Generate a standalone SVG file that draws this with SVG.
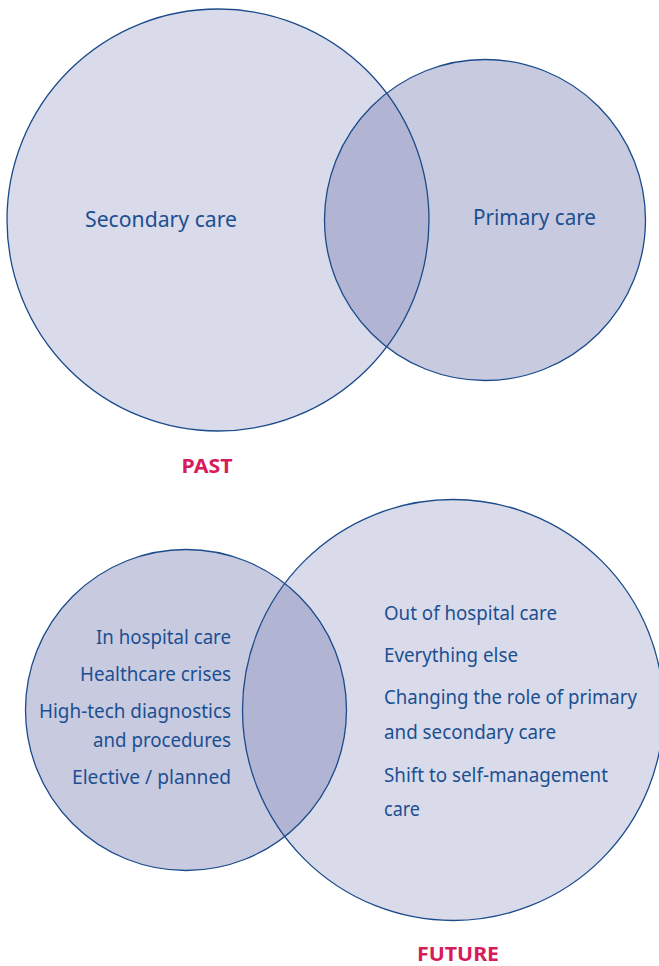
<svg xmlns="http://www.w3.org/2000/svg" width="659" height="966" viewBox="0 0 659 966">
<style>
.light{fill:#d9dbea}
.mid{fill:#c8cbe0}
.lens{fill:#b1b5d3}
.ring{fill:none;stroke:#1b4b8b;stroke-width:1.3}
.lbl{font-family:"Noto Sans","Open Sans","DejaVu Sans",sans-serif;fill:#1c4f91}
.big{font-size:22.5px}
.item{font-size:20px}
.head{font-family:"Noto Sans","DejaVu Sans",sans-serif;font-weight:bold;font-size:19.5px;fill:#d81b5b}
</style>
<defs>
<clipPath id="clipTopSmall"><circle cx="485" cy="220" r="160.5"/></clipPath>
<clipPath id="clipBotLeft"><circle cx="186" cy="710" r="160.5"/></clipPath>
</defs>
<rect width="659" height="966" fill="#ffffff"/>

<g id="past-secondary">
<circle class="light" cx="218" cy="220" r="211"/>
</g>
<g id="past-primary">
<circle class="mid" cx="485" cy="220" r="160.5"/>
</g>
<g id="past-overlap">
<circle class="lens" cx="218" cy="220" r="211" clip-path="url(#clipTopSmall)"/>
</g>
<g id="past-rings">
<circle class="ring" cx="218" cy="220" r="211"/>
<circle class="ring" cx="485" cy="220" r="160.5"/>
</g>
<g id="past-labels">
<text class="lbl big" x="85" y="227" textLength="152" lengthAdjust="spacingAndGlyphs">Secondary care</text>
<text class="lbl big" x="473" y="225" textLength="123" lengthAdjust="spacingAndGlyphs">Primary care</text>
<text class="head" x="181.5" y="472.5" textLength="51" lengthAdjust="spacingAndGlyphs">PAST</text>
</g>

<g id="future-outofhospital">
<circle class="light" cx="453" cy="710" r="210.5"/>
</g>
<g id="future-inhospital">
<circle class="mid" cx="186" cy="710" r="160.5"/>
</g>
<g id="future-overlap">
<circle class="lens" cx="453" cy="710" r="210.5" clip-path="url(#clipBotLeft)"/>
</g>
<g id="future-rings">
<circle class="ring" cx="453" cy="710" r="210.5"/>
<circle class="ring" cx="186" cy="710" r="160.5"/>
</g>
<g id="future-left-labels">
<text class="lbl item" x="96" y="644" textLength="135" lengthAdjust="spacingAndGlyphs">In hospital care</text>
<text class="lbl item" x="80" y="681" textLength="151" lengthAdjust="spacingAndGlyphs">Healthcare crises</text>
<text class="lbl item" x="39" y="718" textLength="192" lengthAdjust="spacingAndGlyphs">High-tech diagnostics</text>
<text class="lbl item" x="93" y="747" textLength="138" lengthAdjust="spacingAndGlyphs">and procedures</text>
<text class="lbl item" x="72" y="784" textLength="159" lengthAdjust="spacingAndGlyphs">Elective / planned</text>
</g>
<g id="future-right-labels">
<text class="lbl item" x="384" y="620" textLength="173" lengthAdjust="spacingAndGlyphs">Out of hospital care</text>
<text class="lbl item" x="384" y="662" textLength="134" lengthAdjust="spacingAndGlyphs">Everything else</text>
<text class="lbl item" x="384" y="704" textLength="253" lengthAdjust="spacingAndGlyphs">Changing the role of primary</text>
<text class="lbl item" x="384" y="739" textLength="172" lengthAdjust="spacingAndGlyphs">and secondary care</text>
<text class="lbl item" x="384" y="782" textLength="224" lengthAdjust="spacingAndGlyphs">Shift to self-management</text>
<text class="lbl item" x="384" y="816" textLength="36" lengthAdjust="spacingAndGlyphs">care</text>
<text class="head" x="417" y="961" textLength="82" lengthAdjust="spacingAndGlyphs">FUTURE</text>
</g>
</svg>
